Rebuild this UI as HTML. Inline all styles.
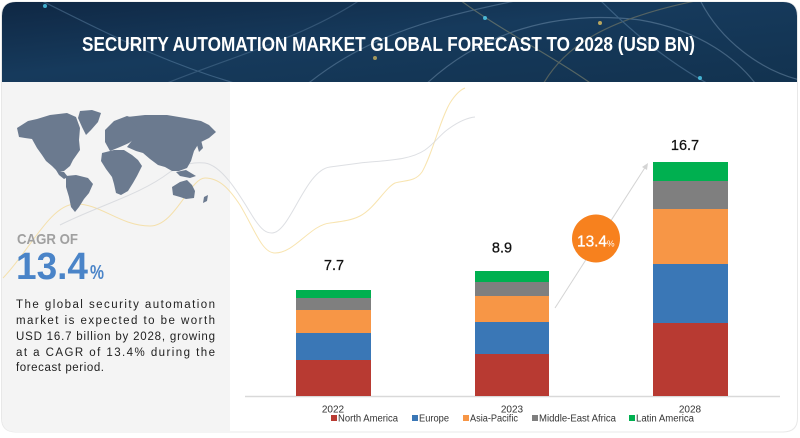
<!DOCTYPE html>
<html>
<head>
<meta charset="utf-8">
<style>
html,body{margin:0;padding:0;background:#fff;}
body{width:800px;height:438px;overflow:hidden;}
svg{display:block;}
text{font-family:"Liberation Sans",Arial,sans-serif;}
</style>
</head>
<body>
<svg width="800" height="438" viewBox="0 0 800 438" xmlns="http://www.w3.org/2000/svg">
  <defs>
    <linearGradient id="hdr" x1="0" y1="0" x2="1" y2="1">
      <stop offset="0" stop-color="#0f2743"/>
      <stop offset="0.45" stop-color="#163a5c"/>
      <stop offset="1" stop-color="#12324f"/>
    </linearGradient>
    <clipPath id="hclip"><path d="M2 82 V16 Q2 2 16 2 H783 Q797 2 797 16 V82 Z"/></clipPath>
  </defs>

  <!-- card -->
  <path d="M1.5 16 Q1.5 2 16 2 H783 Q797.5 2 797.5 16 V418 Q797.5 432 783 432 H16 Q1.5 432 1.5 418 Z" fill="#fff" stroke="#e8e8e8" stroke-width="1"/>
  <!-- left panel -->
  <path d="M2 82 H230 V432 H16 Q2 432 2 418 Z" fill="#f4f4f4"/>

  <!-- header -->
  <g clip-path="url(#hclip)">
    <rect x="0" y="0" width="800" height="84" fill="url(#hdr)"/>
    <g fill="none" stroke-width="1.2" opacity="0.35">
      <path d="M40 0 C120 40, 180 70, 260 90" stroke="#7fa6c8"/>
      <path d="M300 90 C360 40, 420 20, 520 0" stroke="#8fb0cc"/>
      <path d="M420 90 C480 30, 560 10, 640 20 C700 30, 740 60, 760 90" stroke="#9bb8d2"/>
      <path d="M540 90 C560 50, 600 20, 700 0" stroke="#c8b070"/>
      <path d="M600 0 C640 40, 680 70, 720 90" stroke="#7fa6c8"/>
      <path d="M150 90 C220 60, 300 40, 360 0" stroke="#6d90b0"/>
      <path d="M700 0 C720 40, 760 70, 800 80" stroke="#9bb8d2"/>
      <path d="M460 0 C500 30, 560 60, 600 90" stroke="#d0c080"/>
    </g>
    <circle cx="45" cy="6" r="2" fill="#4fd0f0" opacity="0.8"/>
    <circle cx="485" cy="18" r="2" fill="#4fd0f0" opacity="0.8"/>
    <circle cx="600" cy="23" r="2" fill="#e0c060" opacity="0.8"/>
    <circle cx="700" cy="78" r="2" fill="#4fd0f0" opacity="0.8"/>
    <circle cx="375" cy="58" r="2" fill="#e0c060" opacity="0.7"/>
  </g>
  <text x="82" y="51" font-size="20" font-weight="bold" fill="#ffffff" textLength="613" lengthAdjust="spacingAndGlyphs">SECURITY AUTOMATION MARKET GLOBAL FORECAST TO 2028 (USD BN)</text>

  <!-- background curves -->
  <path d="M3 278 C30 250, 50 205, 75 204 C100 203, 120 226, 150 226 C175 226, 190 178, 205 178 C220 178, 230 190, 240 205 C255 230, 262 253, 275 253 C295 253, 310 225, 330 223 C345 221, 352 220, 360 216 C375 208, 385 188, 395 183 C405 180, 415 182, 422 172 C432 155, 440 120, 450 103 C455 95, 460 90, 465 88" fill="none" stroke="#f3d27a" stroke-width="1" opacity="0.6"/>
  <path d="M60 225 C100 205, 140 195, 170 172 C185 163, 195 162, 205 163 C225 166, 245 205, 255 220 C262 230, 266 233, 272 233 C290 233, 305 170, 330 167 C345 165, 352 164, 360 163 C390 160, 410 160, 425 150 C435 143, 440 135, 447 130 C455 124, 465 118, 475 117" fill="none" stroke="#d2d4da" stroke-width="1" opacity="0.75"/>

  <!-- world map (simplified) -->
  <g fill="#6b7a8f">
    <path d="M17 128 L28 121 L37 119 L50 115 L67 113 L76 117 L80 128 L79 140 L80 150 L73 160 L70 166 L64 171 L57 171 L52 166 L46 161 L42 155 L37 148 L32 139 L25 138 L19 137 Z"/>
    <path d="M80 111 L92 110 L101 113 L98 122 L91 130 L86 135 L82 127 L78 118 Z"/>
    <path d="M56 170 L64 172 L68 177 L64 179 L59 175 Z"/>
    <path d="M66 176 L76 175 L88 178 L93 184 L89 193 L84 199 L79 207 L75 212 L71 207 L69 197 L66 187 Z"/>
    <path d="M105 130 L114 121 L127 116 L139 120 L142 128 L137 137 L129 143 L120 147 L110 151 L105 142 Z"/>
    <path d="M127 117 L145 115 L167 115 L185 118 L201 121 L209 125 L216 132 L209 138 L199 143 L194 151 L191 161 L187 168 L179 171 L172 171 L165 167 L158 165 L150 159 L143 153 L136 151 L127 147 L134 138 L140 130 Z"/>
    <path d="M102 153 L114 150 L124 150 L132 155 L138 160 L142 166 L137 176 L133 183 L128 191 L121 195 L116 193 L114 184 L112 177 L106 169 L101 161 Z"/>
    <path d="M172 187 L180 182 L187 180 L192 185 L195 191 L194 198 L186 199 L180 197 L173 195 Z"/>
    <path d="M176 172 L186 170 L196 176 L190 178 L180 176 Z"/>
    <path d="M204 197 L208 195 L207 201 L203 203 Z"/>
    <path d="M197 145 L201 140 L203 148 L199 152 Z"/>
  </g>

  <!-- CAGR -->
  <text x="17" y="244" font-size="15" font-weight="bold" fill="#a0a0a0" textLength="61" lengthAdjust="spacingAndGlyphs">CAGR OF</text>
  <text x="16" y="279" font-size="38" font-weight="bold" fill="#4a84c8" textLength="72" lengthAdjust="spacingAndGlyphs">13.4</text>
  <text x="90" y="279" font-size="20" font-weight="bold" fill="#4a84c8" textLength="14" lengthAdjust="spacingAndGlyphs">%</text>

  <!-- description -->
  <g font-size="11.5" fill="#222">
    <text x="16" y="308" textLength="199" lengthAdjust="spacing">The global security automation</text>
    <text x="16" y="324" textLength="199" lengthAdjust="spacing">market is expected to be worth</text>
    <text x="16" y="340" textLength="199" lengthAdjust="spacing">USD 16.7 billion by 2028, growing</text>
    <text x="16" y="356" textLength="199" lengthAdjust="spacing">at a CAGR of 13.4% during the</text>
    <text x="16" y="371" textLength="88" lengthAdjust="spacing">forecast period.</text>
  </g>

  <!-- axis -->
  <line x1="245" y1="396.5" x2="780" y2="396.5" stroke="#d9d9d9" stroke-width="1.5"/>

  <!-- bars 2022 -->
  <rect x="296" y="290" width="75" height="8" fill="#00b050"/>
  <rect x="296" y="298" width="75" height="12" fill="#7f7f7f"/>
  <rect x="296" y="310" width="75" height="23" fill="#f79646"/>
  <rect x="296" y="333" width="75" height="27" fill="#3a77b6"/>
  <rect x="296" y="360" width="75" height="36" fill="#b83a32"/>
  <!-- bars 2023 -->
  <rect x="475" y="271" width="74" height="11" fill="#00b050"/>
  <rect x="475" y="282" width="74" height="14" fill="#7f7f7f"/>
  <rect x="475" y="296" width="74" height="26" fill="#f79646"/>
  <rect x="475" y="322" width="74" height="32" fill="#3a77b6"/>
  <rect x="475" y="354" width="74" height="42" fill="#b83a32"/>
  <!-- bars 2028 -->
  <rect x="653" y="162" width="75" height="19" fill="#00b050"/>
  <rect x="653" y="181" width="75" height="28" fill="#7f7f7f"/>
  <rect x="653" y="209" width="75" height="55" fill="#f79646"/>
  <rect x="653" y="264" width="75" height="59" fill="#3a77b6"/>
  <rect x="653" y="323" width="75" height="73" fill="#b83a32"/>

  <!-- values -->
  <g font-size="14.5" fill="#111" text-anchor="middle" stroke="#111" stroke-width="0.25">
    <text x="334" y="270">7.7</text>
    <text x="502" y="252.5">8.9</text>
    <text x="685" y="150">16.7</text>
  </g>

  <!-- arrow -->
  <line x1="555" y1="308" x2="646" y2="166" stroke="#d4d4d4" stroke-width="1"/>
  <path d="M648 163 L642 167 L647 170 Z" fill="#d4d4d4"/>

  <!-- cagr circle -->
  <circle cx="596" cy="238.5" r="24" fill="#f7811e"/>
  <text x="577" y="246.5" font-size="16" fill="#fff" stroke="#fff" stroke-width="0.3" textLength="30" lengthAdjust="spacingAndGlyphs">13.4</text>
  <text x="607" y="246.5" font-size="8.5" fill="#fff">%</text>

  <!-- year labels -->
  <g font-size="10" fill="#333" text-anchor="middle">
    <text x="333" y="412.5">2022</text>
    <text x="512" y="412.5">2023</text>
    <text x="690" y="412.5">2028</text>
  </g>

  <!-- legend -->
  <g font-size="10" fill="#333">
    <rect x="331" y="415" width="6" height="6" fill="#b83a32"/>
    <text x="338" y="421.5" textLength="60" lengthAdjust="spacingAndGlyphs">North America</text>
    <rect x="412" y="415" width="6" height="6" fill="#3a77b6"/>
    <text x="419" y="421.5" textLength="30" lengthAdjust="spacingAndGlyphs">Europe</text>
    <rect x="463" y="415" width="6" height="6" fill="#f79646"/>
    <text x="470" y="421.5" textLength="48" lengthAdjust="spacingAndGlyphs">Asia-Pacific</text>
    <rect x="532" y="415" width="6" height="6" fill="#7f7f7f"/>
    <text x="539" y="421.5" textLength="77" lengthAdjust="spacingAndGlyphs">Middle-East Africa</text>
    <rect x="629" y="415" width="6" height="6" fill="#00b050"/>
    <text x="636" y="421.5" textLength="58" lengthAdjust="spacingAndGlyphs">Latin America</text>
  </g>
</svg>
</body>
</html>
